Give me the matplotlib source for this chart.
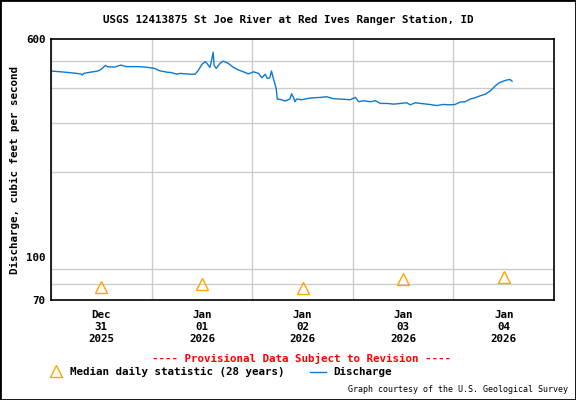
import numpy as np
import matplotlib
matplotlib.use('Agg')
import matplotlib.pyplot as plt
import matplotlib.dates as mdates
import matplotlib.ticker as ticker
from matplotlib.lines import Line2D
from matplotlib.patches import Rectangle

start = np.datetime64('2025-12-31T00:00')

# discharge, hours since Dec 31 00:00 -> cfs
hours = [0.0, 2.3, 4.5, 7.2, 7.5, 7.8, 8.8, 11.2, 12.0, 13.0, 13.4, 14.0, 15.2, 16.6,
         18.0, 20.8, 23.1, 24.7, 25.9, 27.9, 28.4, 30.1, 30.8, 33.2, 34.4, 35.2, 36.0,
         36.8, 37.2, 37.9, 38.2, 38.7, 38.9, 39.4, 39.9, 40.3, 41.1, 42.3, 43.5, 44.7,
         45.9, 47.1, 48.3, 49.5, 50.3, 51.1, 51.6, 52.2, 52.6, 53.0, 53.7, 54.0, 55.0,
         55.8, 56.6, 57.0, 57.4, 57.8, 58.2, 58.6, 59.8, 61.8, 64.2, 65.8, 67.4, 69.0,
         71.4, 72.6, 73.4, 74.6, 76.2, 77.4, 78.6, 80.2, 81.8, 83.3, 84.9, 85.7, 86.9,
         88.1, 90.4, 92.0, 93.6, 95.2, 96.4, 97.6, 98.8, 100.0, 101.2, 102.4, 103.6,
         104.8, 106.0, 106.8, 107.5, 108.7, 109.5, 110.0]
discharge = [461, 458, 455, 450, 446, 452, 455, 461, 468, 483, 478, 477, 476, 484,
             478, 478, 475, 471, 462, 456, 456, 449, 452, 449, 449, 465, 487,
             498, 491, 475, 495, 538, 484, 471, 481, 491, 500, 491, 475, 465,
             458, 450, 458, 452, 436, 449, 434, 436, 461, 436, 400, 366, 364,
             360, 364, 366, 382, 372, 358, 366, 364, 369, 371, 373, 367, 366,
             364, 371, 358, 361, 358, 361, 353, 353, 351, 353, 355, 349, 355,
             353, 350, 347, 350, 349, 350, 357, 358, 366, 370, 376, 381,
             391, 408, 417, 422, 428, 430, 424]

# median daily statistic, plotted at noon
median_days = ['2025-12-31', '2026-01-01', '2026-01-02', '2026-01-03', '2026-01-04']
median_vals = [78, 80, 77.5, 83.5, 84.5]

tick_labels = ['Dec\n31\n2025', 'Jan\n01\n2026', 'Jan\n02\n2026', 'Jan\n03\n2026', 'Jan\n04\n2026']

mono = 'DejaVu Sans Mono'
plt.rcParams['font.family'] = mono

fig = plt.figure(figsize=(5.76, 4.0), dpi=100)
ax = fig.add_axes([51/576, 1 - 300/400, 503/576, 261/400])

t = start + (np.array(hours) * 60).astype('timedelta64[m]')
ax.plot(t.astype('datetime64[ms]').astype(object), discharge, color='#0b7ad0', lw=1)

tm = [np.datetime64(d + 'T12:00').astype('datetime64[ms]').astype(object) for d in median_days]
ax.plot(tm, median_vals, ls='none', marker='^', ms=8, mfc='none', mec='#ffa500', mew=1)

ax.set_yscale('log')
ax.set_ylim(70, 600)
ax.set_xlim(start.astype('datetime64[ms]').astype(object),
            np.datetime64('2026-01-05T00:00').astype('datetime64[ms]').astype(object))

ax.yaxis.set_major_locator(ticker.FixedLocator([70, 100, 600]))
ax.yaxis.set_major_formatter(ticker.FixedFormatter(['70', '100', '600']))
ax.yaxis.set_minor_locator(ticker.FixedLocator([80, 90, 100, 200, 300, 400, 500]))
ax.yaxis.set_minor_formatter(ticker.NullFormatter())

ax.xaxis.set_major_locator(ticker.FixedLocator(mdates.date2num(tm)))
ax.xaxis.set_major_formatter(ticker.FixedFormatter(tick_labels))
ax.xaxis.set_minor_locator(mdates.DayLocator())

ax.grid(False)
ax.grid(which='minor', color='#cccccc', lw=1)
ax.tick_params(which='both', length=0)
ax.tick_params(axis='y', pad=4)
ax.tick_params(axis='x', pad=7)
for lab in ax.get_xticklabels() + ax.get_yticklabels():
    lab.set_fontsize(7.8)
    lab.set_fontweight('bold')
    lab.set_linespacing(1.25)
for s in ax.spines.values():
    s.set_linewidth(1.2)
ax.set_axisbelow(True)

ax.set_ylabel('Discharge, cubic feet per second', fontsize=7.8, fontweight='bold', labelpad=4)

fig.text(288/576, 1 - 20/400, 'USGS 12413875 St Joe River at Red Ives Ranger Station, ID',
         ha='center', va='center', fontsize=7.8, fontweight='bold')
fig.text(302/576, 1 - 358/400, '---- Provisional Data Subject to Revision ----',
         ha='center', va='center', fontsize=7.8, fontweight='bold', color='#ff0000')

# legend
fig.add_artist(Line2D([56/576], [1 - 371/400], transform=fig.transFigure, ls='none',
                      marker='^', ms=8, mfc='none', mec='#ffa500', mew=1))
fig.text(70/576, 1 - 372/400, 'Median daily statistic (28 years)',
         ha='left', va='center', fontsize=7.8, fontweight='bold')
fig.add_artist(Line2D([310/576, 326/576], [1 - 372/400] * 2, transform=fig.transFigure,
                      color='#0b7ad0', lw=1))
fig.text(333/576, 1 - 372/400, 'Discharge', ha='left', va='center', fontsize=7.8, fontweight='bold')

fig.text(568/576, 1 - 390/400, 'Graph courtesy of the U.S. Geological Survey',
         ha='right', va='center', fontsize=6)

fig.add_artist(Rectangle((0, 0), 1, 1, transform=fig.transFigure, fill=False,
                         edgecolor='black', lw=2))

fig.savefig('out.png', dpi=100)
